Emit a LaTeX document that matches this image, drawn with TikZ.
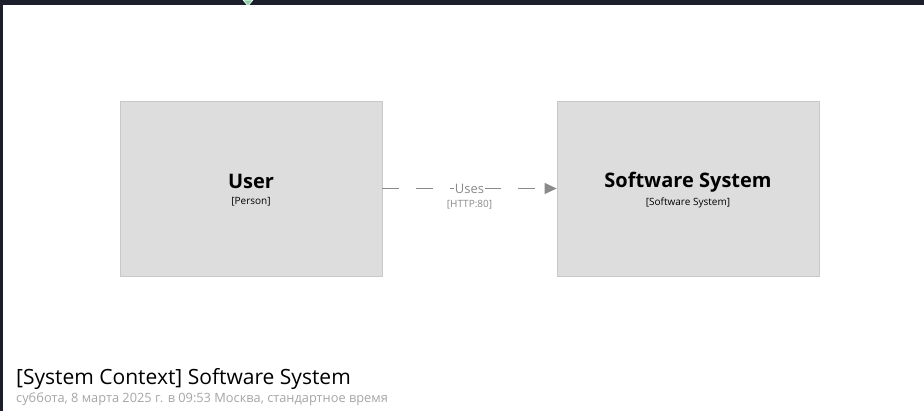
\documentclass[tikz,border=0pt]{standalone}
\usepackage{fontspec}
\setmainfont{Open Sans}
\usetikzlibrary{positioning,arrows.meta}

\definecolor{framedark}{HTML}{1A1F2B}
\definecolor{boxfill}{HTML}{DDDDDD}
\definecolor{boxline}{HTML}{C8C8C8}
\definecolor{relgray}{HTML}{8A8A8A}
\definecolor{pingreen}{HTML}{8FD4A8}

\newcommand{\elname}[1]{{\fontsize{20}{22}\selectfont\bfseries #1}}
\newcommand{\eltype}[1]{{\fontsize{10}{12}\selectfont #1}}

\tikzset{
  elem/.style={draw=boxline, fill=boxfill, line width=0.8pt,
    minimum width=262pt, minimum height=175pt, inner sep=0pt},
  elemtext/.style={align=center, inner sep=0pt, yshift=-1.5pt},
  rel/.style={draw=relgray, line width=1.2pt, dash pattern=on 17pt off 17pt,
    -{Triangle[length=12pt,width=11pt]}},
  relname/.style={fill=white, inner sep=1pt, text=relgray,
    font=\fontsize{13}{15}\selectfont},
  reltech/.style={text=relgray, inner sep=0pt, font=\fontsize{10}{12}\selectfont},
  viewtitle/.style={anchor=base west, inner sep=0pt, font=\fontsize{21}{24}\selectfont},
  viewdate/.style={anchor=base west, inner sep=0pt, text=black!35,
    font=\fontsize{12.8}{15}\selectfont}
}

\begin{document}
\begin{tikzpicture}[x=1pt, y=-1pt]

    % page frame
    \useasboundingbox (0,0) rectangle (924,411);
    \fill[framedark] (0,0) rectangle (924,411);
    \fill[white] (3,5) rectangle (924,411);
    \fill[pingreen, draw=white, line width=0.6pt] (243,0) -- (253,0) -- (248,6) -- cycle;

    % elements
    \node[elem] (user) at (251,188.5) {};
    \node[elemtext] (usertext) at (user.center)
      {\elname{User}\\[4pt] \eltype{[Person]}};
    \node[elem] (softsys) at (688,188.5) {};
    \node[elemtext] (softsystext) at (softsys.center)
      {\elname{Software System}\\[4pt] \eltype{[Software System]}};

    % relationship
    \draw[rel] (user.east) -- node[relname] (uses) {Uses} (softsys.west);
    \node[reltech, below=5.5pt of uses] (tech) {[HTTP:80]};

    % view title
    \node[viewtitle] (title) at (16,385) {[System Context] Software System};
    \node[viewdate] (date) at (16,403) {суббота, 8 марта 2025 г. в 09:53 Москва, стандартное время};

\end{tikzpicture}
\end{document}
